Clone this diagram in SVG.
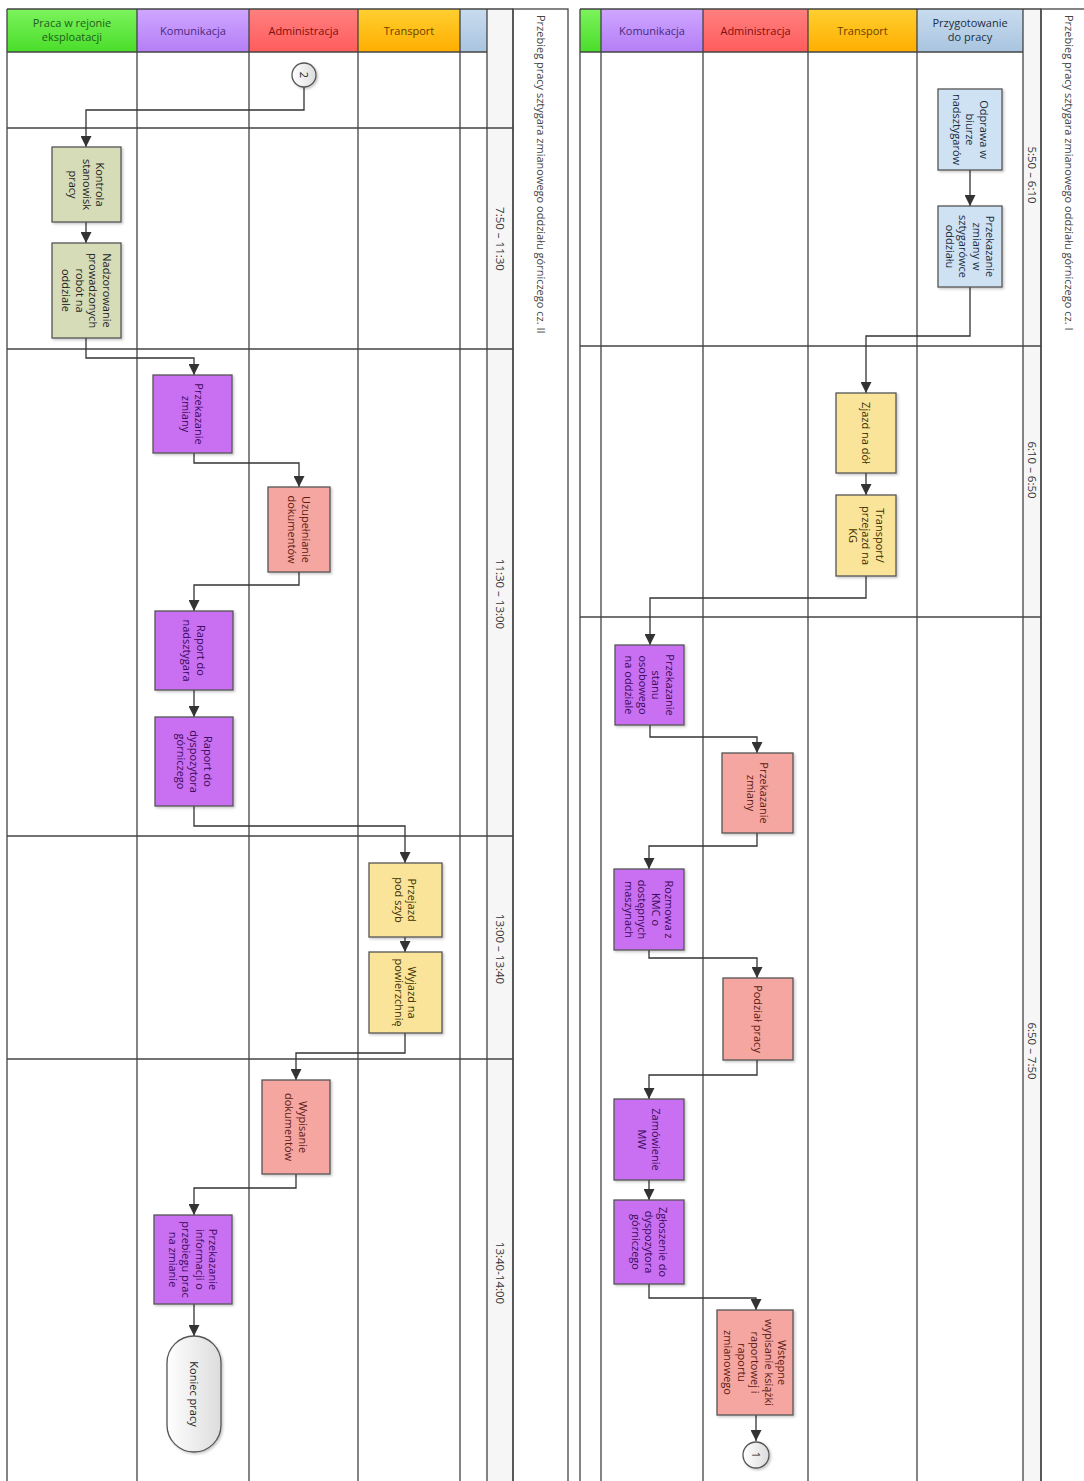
<svg xmlns="http://www.w3.org/2000/svg" width="1084" height="1481" viewBox="0 0 1084 1481">
<style>
.ln{stroke:#444;stroke-width:1.3;fill:none}
.hdr{font-family:"Open Sans","Liberation Sans",sans-serif;font-size:11px;text-anchor:middle}
.t{font-family:"Open Sans","Liberation Sans",sans-serif;font-size:11px;text-anchor:middle}
.tm{font-family:"Open Sans","Liberation Sans",sans-serif;font-size:11.5px;text-anchor:middle;fill:#333}
.ttl{font-family:"Open Sans","Liberation Sans",sans-serif;font-size:11px;fill:#444}
.box{stroke:#555;stroke-width:1.3;filter:url(#sh)}
.ol{fill:#d6dcb8}.pu{fill:#c96ff2}.pk{fill:#f5a6a0}.ye{fill:#fae49a}.bl{fill:#cfe2f3}
.tol{fill:#1e1e1e}.tpu{fill:#3b0a5a}.tpk{fill:#5c1a14}.tye{fill:#3d3000}.tbl{fill:#1b2b3b}
.con{stroke:#333;stroke-width:1.3;fill:none;marker-end:url(#ah)}
</style>
<defs>
<marker id="ah" viewBox="0 0 10 10" refX="10" refY="5" markerWidth="11" markerHeight="11" markerUnits="userSpaceOnUse" orient="auto"><path d="M0,0 L10,5 L0,10 z" fill="#333"/></marker>
<filter id="sh" x="-10%" y="-10%" width="130%" height="130%"><feDropShadow dx="1.5" dy="1.5" stdDeviation="1" flood-color="#000" flood-opacity="0.22"/></filter>
<linearGradient id="gG" x1="0" y1="0" x2="0" y2="1"><stop offset="0" stop-color="#7cf35c"/><stop offset="1" stop-color="#4ade2a"/></linearGradient>
<linearGradient id="gP" x1="0" y1="0" x2="0" y2="1"><stop offset="0" stop-color="#cfa6ff"/><stop offset="1" stop-color="#b47ef6"/></linearGradient>
<linearGradient id="gR" x1="0" y1="0" x2="0" y2="1"><stop offset="0" stop-color="#ff8080"/><stop offset="1" stop-color="#ff5c5c"/></linearGradient>
<linearGradient id="gO" x1="0" y1="0" x2="0" y2="1"><stop offset="0" stop-color="#ffcf30"/><stop offset="1" stop-color="#ffae00"/></linearGradient>
<linearGradient id="gB" x1="0" y1="0" x2="0" y2="1"><stop offset="0" stop-color="#c9dcef"/><stop offset="1" stop-color="#a9c4df"/></linearGradient>
<linearGradient id="gT" x1="0" y1="0" x2="1" y2="0"><stop offset="0" stop-color="#f8f8f8"/><stop offset="1" stop-color="#ececec"/></linearGradient>
<linearGradient id="gC" x1="0" y1="0" x2="1" y2="0"><stop offset="0" stop-color="#ffffff"/><stop offset="1" stop-color="#dcdcdc"/></linearGradient>
</defs>
<rect width="1084" height="1481" fill="#ffffff"/>

<!-- LEFT DIAGRAM (cz. II) -->
<g id="left-frame">
<rect x="7" y="9" width="130" height="43" fill="url(#gG)"/>
<rect x="137" y="9" width="112" height="43" fill="url(#gP)"/>
<rect x="249" y="9" width="109" height="43" fill="url(#gR)"/>
<rect x="358" y="9" width="102" height="43" fill="url(#gO)"/>
<rect x="460" y="9" width="27" height="43" fill="url(#gB)"/>
<rect x="487" y="9" width="26" height="1472" fill="#f6f6f6"/>
<rect x="513" y="9" width="55" height="1480" fill="url(#gT)" class="ln"/>
<path class="ln" d="M7,9H513M7,52H487M7,128H513M7,349H513M7,836H513M7,1059H513"/>
<path class="ln" d="M7,9V1481M137,9V1481M249,9V1481M358,9V1481M460,9V1481M487,9V1481M513,9V1481"/>
<text class="hdr" fill="#1d5f1d"><tspan x="72" y="27">Praca w rejonie</tspan><tspan x="72" y="41">eksploatacji</tspan></text>
<text class="hdr" x="193" y="35" fill="#4b2a80">Komunikacja</text>
<text class="hdr" x="303.5" y="35" fill="#7a1010">Administracja</text>
<text class="hdr" x="409" y="35" fill="#6b4000">Transport</text>
<text class="tm" transform="translate(500,239) rotate(90)" y="4">7:50 – 11:30</text>
<text class="tm" transform="translate(500,594) rotate(90)" y="4">11:30 – 13:00</text>
<text class="tm" transform="translate(500,949) rotate(90)" y="4">13:00 – 13:40</text>
<text class="tm" transform="translate(500,1273) rotate(90)" y="4">13:40-14:00</text>
<text class="ttl" transform="translate(537,15) rotate(90)" x="0" y="0">Przebieg pracy sztygara zmianowego oddziału górniczego cz. II</text>
</g>

<!-- RIGHT DIAGRAM (cz. I) -->
<g id="right-frame">
<rect x="580" y="9" width="21" height="43" fill="url(#gG)"/>
<rect x="601" y="9" width="102" height="43" fill="url(#gP)"/>
<rect x="703" y="9" width="105" height="43" fill="url(#gR)"/>
<rect x="808" y="9" width="109" height="43" fill="url(#gO)"/>
<rect x="917" y="9" width="106" height="43" fill="url(#gB)"/>
<rect x="1023" y="9" width="18" height="1472" fill="#f6f6f6"/>
<rect x="1041" y="9" width="60" height="1480" fill="url(#gT)" class="ln"/>
<path class="ln" d="M580,9H1041M580,52H1023M580,346H1041M580,617H1041"/>
<path class="ln" d="M580,9V1481M601,9V1481M703,9V1481M808,9V1481M917,9V1481M1023,9V1481M1041,9V1481"/>
<text class="hdr" x="652" y="35" fill="#4b2a80">Komunikacja</text>
<text class="hdr" x="755.5" y="35" fill="#7a1010">Administracja</text>
<text class="hdr" x="862.5" y="35" fill="#6b4000">Transport</text>
<text class="hdr" fill="#203040"><tspan x="970" y="27">Przygotowanie</tspan><tspan x="970" y="41">do pracy</tspan></text>
<text class="tm" transform="translate(1032,175) rotate(90)" y="4">5:50 – 6:10</text>
<text class="tm" transform="translate(1032,470) rotate(90)" y="4">6:10 – 6:50</text>
<text class="tm" transform="translate(1032,1051) rotate(90)" y="4">6:50 – 7:50</text>
<text class="ttl" transform="translate(1065,15) rotate(90)" x="0" y="0">Przebieg pracy sztygara zmianowego oddziału górniczego cz. I</text>
</g>

<!-- CONNECTORS -->
<g id="connectors">
<path class="con" d="M304,87V110H86V147"/>
<path class="con" d="M86,222V243"/>
<path class="con" d="M86,338V358H194V375"/>
<path class="con" d="M194,453V463H299V487"/>
<path class="con" d="M299,572V585H194V611"/>
<path class="con" d="M194,690V717"/>
<path class="con" d="M194,806V826H405V863"/>
<path class="con" d="M405,937V952"/>
<path class="con" d="M405,1033V1053H296V1080"/>
<path class="con" d="M296,1174V1188H194V1215"/>
<path class="con" d="M194,1304V1336"/>
<path class="con" d="M970,170V206"/>
<path class="con" d="M970,287V336H866V393"/>
<path class="con" d="M866,473V495"/>
<path class="con" d="M866,576V598H650V645"/>
<path class="con" d="M650,725V737H757V753"/>
<path class="con" d="M757,833V846H649V869"/>
<path class="con" d="M649,950V958H757V978"/>
<path class="con" d="M757,1060V1075H649V1099"/>
<path class="con" d="M649,1180V1200"/>
<path class="con" d="M649,1284V1298H756V1310"/>
<path class="con" d="M756,1415V1441"/>
</g>

<!-- LEFT NODES -->
<g id="n-conn2"><circle cx="304" cy="75" r="12" fill="url(#gC)" class="box"/><text class="t" fill="#222" transform="translate(304,75) rotate(90)" y="3.9">2</text></g>
<g id="n-kontrola"><rect x="52" y="147" width="69" height="75" class="box ol"/><text class="t tol" transform="translate(86.5,184.5) rotate(90)"><tspan x="0" y="-9.6">Kontrola</tspan><tspan x="0" y="3.9">stanowisk</tspan><tspan x="0" y="17.4">pracy</tspan></text></g>
<g id="n-nadzor"><rect x="52" y="243" width="69" height="95" class="box ol"/><text class="t tol" transform="translate(86.5,290.5) rotate(90)"><tspan x="0" y="-16.35">Nadzorowanie</tspan><tspan x="0" y="-2.85">prowadzonych</tspan><tspan x="0" y="10.65">robót na</tspan><tspan x="0" y="24.15">oddziale</tspan></text></g>
<g id="n-przek-zm-l"><rect x="153" y="375" width="79" height="78" class="box pu"/><text class="t tpu" transform="translate(192.5,414) rotate(90)"><tspan x="0" y="-2.85">Przekazanie</tspan><tspan x="0" y="10.65">zmiany</tspan></text></g>
<g id="n-uzup"><rect x="268" y="487" width="62" height="85" class="box pk"/><text class="t tpk" transform="translate(299,529.5) rotate(90)"><tspan x="0" y="-2.85">Uzupełnianie</tspan><tspan x="0" y="10.65">dokumentów</tspan></text></g>
<g id="n-raport-nad"><rect x="155" y="611" width="78" height="79" class="box pu"/><text class="t tpu" transform="translate(194,650.5) rotate(90)"><tspan x="0" y="-2.85">Raport do</tspan><tspan x="0" y="10.65">nadsztygara</tspan></text></g>
<g id="n-raport-dysp"><rect x="155" y="717" width="78" height="89" class="box pu"/><text class="t tpu" transform="translate(194,761.5) rotate(90)"><tspan x="0" y="-9.6">Raport do</tspan><tspan x="0" y="3.9">dyspozytora</tspan><tspan x="0" y="17.4">górniczego</tspan></text></g>
<g id="n-przejazd"><rect x="369" y="863" width="73" height="74" class="box ye"/><text class="t tye" transform="translate(405.5,900) rotate(90)"><tspan x="0" y="-2.85">Przejazd</tspan><tspan x="0" y="10.65">pod szyb</tspan></text></g>
<g id="n-wyjazd"><rect x="369" y="952" width="73" height="81" class="box ye"/><text class="t tye" transform="translate(405.5,992.5) rotate(90)"><tspan x="0" y="-2.85">Wyjazd na</tspan><tspan x="0" y="10.65">powierzchnię</tspan></text></g>
<g id="n-wypis"><rect x="262" y="1080" width="68" height="94" class="box pk"/><text class="t tpk" transform="translate(296,1127) rotate(90)"><tspan x="0" y="-2.85">Wypisanie</tspan><tspan x="0" y="10.65">dokumentów</tspan></text></g>
<g id="n-przek-info"><rect x="154" y="1215" width="78" height="89" class="box pu"/><text class="t tpu" transform="translate(193,1259.5) rotate(90)"><tspan x="0" y="-16.35">Przekazanie</tspan><tspan x="0" y="-2.85">informacji o</tspan><tspan x="0" y="10.65">przebiegu prac</tspan><tspan x="0" y="24.15">na zmianie</tspan></text></g>
<g id="n-koniec"><rect x="167" y="1336" width="54" height="116" rx="27" ry="27" fill="url(#gC)" class="box"/><text class="t" fill="#222" transform="translate(194,1394) rotate(90)" y="3.9">Koniec pracy</text></g>

<!-- RIGHT NODES -->
<g id="n-odprawa"><rect x="938" y="89" width="64" height="81" class="box bl"/><text class="t tbl" transform="translate(970,129.5) rotate(90)"><tspan x="0" y="-9.6">Odprawa w</tspan><tspan x="0" y="3.9">biurze</tspan><tspan x="0" y="17.4">nadsztygarów</tspan></text></g>
<g id="n-przek-szt"><rect x="938" y="206" width="64" height="81" class="box bl"/><text class="t tbl" transform="translate(970,246.5) rotate(90)"><tspan x="0" y="-16.35">Przekazanie</tspan><tspan x="0" y="-2.85">zmiany w</tspan><tspan x="0" y="10.65">sztygarówce</tspan><tspan x="0" y="24.15">oddziału</tspan></text></g>
<g id="n-zjazd"><rect x="836" y="393" width="60" height="80" class="box ye"/><text class="t tye" transform="translate(866,433) rotate(90)" y="3.9">Zjazd na dół</text></g>
<g id="n-transport"><rect x="836" y="495" width="60" height="81" class="box ye"/><text class="t tye" transform="translate(866,535.5) rotate(90)"><tspan x="0" y="-9.6">Transport/</tspan><tspan x="0" y="3.9">przejazd na</tspan><tspan x="0" y="17.4">KG</tspan></text></g>
<g id="n-stan"><rect x="615" y="645" width="69" height="80" class="box pu"/><text class="t tpu" transform="translate(649.5,685) rotate(90)"><tspan x="0" y="-16.35">Przekazanie</tspan><tspan x="0" y="-2.85">stanu</tspan><tspan x="0" y="10.65">osobowego</tspan><tspan x="0" y="24.15">na oddziale</tspan></text></g>
<g id="n-przek-zm-r"><rect x="722" y="753" width="71" height="80" class="box pk"/><text class="t tpk" transform="translate(757.5,793) rotate(90)"><tspan x="0" y="-2.85">Przekazanie</tspan><tspan x="0" y="10.65">zmiany</tspan></text></g>
<g id="n-rozmowa"><rect x="614" y="869" width="70" height="81" class="box pu"/><text class="t tpu" transform="translate(649,909.5) rotate(90)"><tspan x="0" y="-16.35">Rozmowa z</tspan><tspan x="0" y="-2.85">KMC o</tspan><tspan x="0" y="10.65">dostępnych</tspan><tspan x="0" y="24.15">maszynach</tspan></text></g>
<g id="n-podzial"><rect x="723" y="978" width="70" height="82" class="box pk"/><text class="t tpk" transform="translate(758,1019) rotate(90)" y="3.9">Podział pracy</text></g>
<g id="n-zamow"><rect x="614" y="1099" width="70" height="81" class="box pu"/><text class="t tpu" transform="translate(649,1139.5) rotate(90)"><tspan x="0" y="-2.85">Zamówienie</tspan><tspan x="0" y="10.65">MW</tspan></text></g>
<g id="n-zglosz"><rect x="614" y="1200" width="70" height="84" class="box pu"/><text class="t tpu" transform="translate(649,1242) rotate(90)"><tspan x="0" y="-9.6">Zgłoszenie do</tspan><tspan x="0" y="3.9">dyspozytora</tspan><tspan x="0" y="17.4">górniczego</tspan></text></g>
<g id="n-wstepne"><rect x="717" y="1310" width="76" height="105" class="box pk"/><text class="t tpk" transform="translate(755,1362.5) rotate(90)"><tspan x="0" y="-23.1">Wstępne</tspan><tspan x="0" y="-9.6">wypisanie książki</tspan><tspan x="0" y="3.9">raportowej i</tspan><tspan x="0" y="17.4">raportu</tspan><tspan x="0" y="30.9">zmianowego</tspan></text></g>
<g id="n-conn1"><circle cx="756" cy="1455" r="13" fill="url(#gC)" class="box"/><text class="t" fill="#222" transform="translate(756,1455) rotate(90)" y="3.9">1</text></g>
</svg>
